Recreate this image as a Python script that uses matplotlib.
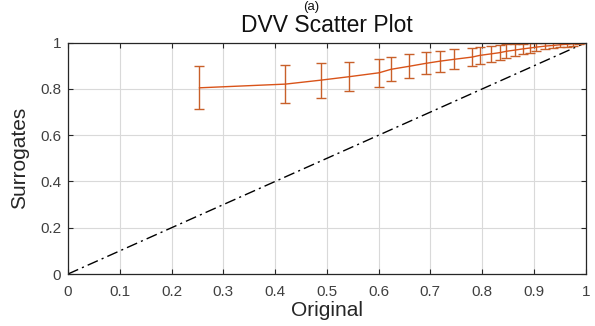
import matplotlib
matplotlib.use("Agg")
import matplotlib.pyplot as plt

# DVV scatter data: original vs surrogate means with error bars
original = [0.254, 0.420, 0.488, 0.543, 0.601, 0.624, 0.659, 0.692, 0.718, 0.745,
            0.781, 0.795, 0.818, 0.834, 0.847, 0.863, 0.878, 0.892, 0.905, 0.921,
            0.936, 0.950, 0.963, 0.975, 0.988, 1.000]
surrogate = [0.805, 0.821, 0.838, 0.853, 0.870, 0.885, 0.898, 0.911, 0.920, 0.928,
             0.938, 0.945, 0.952, 0.957, 0.963, 0.968, 0.973, 0.977, 0.981, 0.985,
             0.988, 0.991, 0.993, 0.995, 0.998, 1.000]
err = [0.093, 0.083, 0.076, 0.063, 0.060, 0.052, 0.052, 0.047, 0.045, 0.043,
       0.040, 0.038, 0.035, 0.033, 0.030, 0.026, 0.022, 0.020, 0.016, 0.014,
       0.013, 0.011, 0.010, 0.008, 0.005, 0.000]
ticks_x = [0, 0.1, 0.2, 0.3, 0.4, 0.5, 0.6, 0.7, 0.8, 0.9, 1]
ticks_y = [0, 0.2, 0.4, 0.6, 0.8, 1]
tick_labels_x = ["0", "0.1", "0.2", "0.3", "0.4", "0.5", "0.6", "0.7", "0.8", "0.9", "1"]
tick_labels_y = ["0", "0.2", "0.4", "0.6", "0.8", "1"]

ORANGE = "#D95319"
AXC = "#262626"

plt.rcParams["font.family"] = ["Liberation Sans", "DejaVu Sans"]

fig = plt.figure(figsize=(5.95, 3.26), dpi=100)
ax = fig.add_axes([0.1143, 0.1595, 0.870, 0.7095])

ax.plot([0, 1], [0, 1], color="black", linewidth=1.0, dashes=(8, 3, 1.5, 3))
ax.errorbar(original, surrogate, yerr=err, color=ORANGE, ecolor="#C8602A",
            linewidth=1.0, elinewidth=1.0, capsize=3.3, capthick=1.0)

ax.set_xlim(0, 1)
ax.set_ylim(0, 1)
ax.set_xticks(ticks_x)
ax.set_xticklabels(tick_labels_x)
ax.set_yticks(ticks_y)
ax.set_yticklabels(tick_labels_y)
ax.grid(True, color="#d9d9d9", linewidth=0.8)
ax.set_axisbelow(True)
ax.tick_params(direction="in", length=3.5, width=0.8, top=True, right=True,
               labelsize=11, colors=AXC, labelcolor="#404040")
ax.tick_params(axis="x", pad=8)
ax.tick_params(axis="y", pad=5)
for sp in ax.spines.values():
    sp.set_edgecolor(AXC)
    sp.set_linewidth(0.9)

ax.set_xlabel("Original", fontsize=15, color=AXC, labelpad=1)
ax.set_ylabel("Surrogates", fontsize=15, color=AXC, labelpad=8)
ax.set_title("DVV Scatter Plot", fontsize=16.5, color="#111111", pad=8)
fig.text(0.523, 1 - 1 / 326, "(a)", ha="center", va="top", fontsize=9.5, color="#111111")

fig.savefig("out.png", dpi=100)
